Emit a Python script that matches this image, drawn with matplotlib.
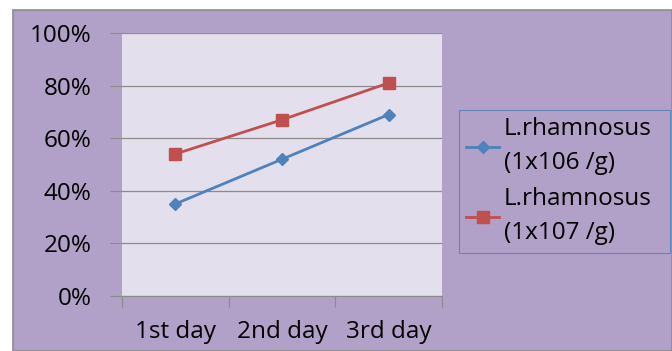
# Line chart: L. rhamnosus viability over three days
import matplotlib.pyplot as plt
from matplotlib.patches import Rectangle
from matplotlib.ticker import PercentFormatter

days = ["1st day", "2nd day", "3rd day"]
dose_106 = [35, 52, 69]
dose_107 = [54, 67, 81]
labels = ["L.rhamnosus\n(1x106 /g)", "L.rhamnosus\n(1x107 /g)"]

plt.rcParams['font.family'] = ['Open Sans', 'DejaVu Sans']

W, H = 672, 351
fig = plt.figure(figsize=(W / 100, H / 100), dpi=100)
fig.patch.set_facecolor("white")

# purple chart area with grey edge
fig.patches.append(Rectangle((13 / W, 0), 1 - 13 / W, 1 - 10 / H, transform=fig.transFigure,
                             facecolor="#B1A0C7", edgecolor="#8C8C8C", linewidth=1.2, zorder=-1))

ax = fig.add_axes([122 / W, 1 - 296 / H, 320 / W, 263 / H])
ax.set_facecolor("#E4DFEC")

x = [0.5, 1.5, 2.5]
ax.plot(x, dose_106, color="#4F81BD", lw=2, marker="D", ms=6, label=labels[0])
ax.plot(x, dose_107, color="#C0504D", lw=2, marker="s", ms=8, label=labels[1])

ax.set_xlim(0, 3)
ax.set_ylim(0, 100)
ax.set_yticks(range(0, 101, 20))
ax.yaxis.set_major_formatter(PercentFormatter(decimals=0))
ax.set_xticks([0, 1, 2, 3])
ax.set_xticklabels([])
ax.set_xticks(x, minor=True)
ax.set_xticklabels(days, minor=True)
ax.tick_params(axis="x", which="minor", length=0, labelsize=17.5, pad=17)
ax.tick_params(axis="x", which="major", length=8, color="#8C8C8C", direction="out")
ax.tick_params(axis="y", length=9, color="#8C8C8C", labelsize=17.5, pad=13)

ax.grid(axis="y", color="#8C8C8C", lw=0.9)
for s in ["top", "right", "left"]:
    ax.spines[s].set_visible(False)
ax.spines["bottom"].set_color("#8C8C8C")

leg = fig.legend(loc="upper left", bbox_to_anchor=(459 / W, 1 - 254 / H, 211 / W, 144 / H),
                 mode="expand", fontsize=17.5,
                 frameon=True, fancybox=False, handlelength=1.35, handletextpad=0.2,
                 borderpad=0.3, labelspacing=0.5, borderaxespad=0)
for t in leg.get_texts():
    t.set_linespacing(1.55)
leg.get_frame().set_facecolor("#B1A0C7")
leg.get_frame().set_edgecolor("#4F81BD")
leg.get_frame().set_linewidth(0.8)

fig.savefig("out.png", dpi=100)
